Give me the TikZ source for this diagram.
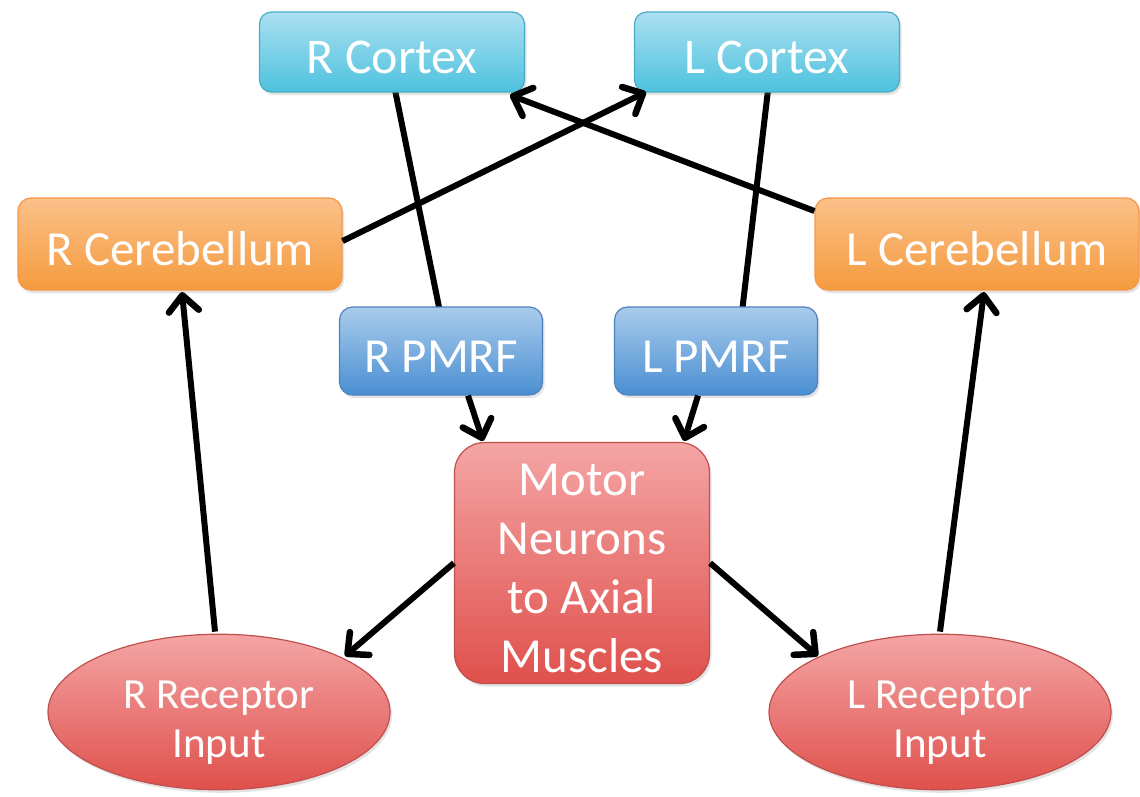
\documentclass[tikz,border=0pt]{standalone}
\usepackage{fontspec}
\setmainfont{Carlito}
\usetikzlibrary{arrows.meta,shapes.geometric,shadows}
\definecolor{cyanT}{HTML}{ABE0F1}
\definecolor{cyanB}{HTML}{4DC2DE}
\definecolor{cyanD}{HTML}{4BACC6}
\definecolor{orT}{HTML}{FBC089}
\definecolor{orB}{HTML}{F59B3E}
\definecolor{orD}{HTML}{F79646}
\definecolor{blT}{HTML}{A9CBEC}
\definecolor{blB}{HTML}{4A8FD2}
\definecolor{blD}{HTML}{4F81BD}
\definecolor{rdT}{HTML}{F4A5A5}
\definecolor{rdB}{HTML}{DF504C}
\definecolor{rdD}{HTML}{C0504D}
\newcommand\topstrut[1]{\rule{0pt}{#1}}
\newcommand\botstrut{\rule[-10pt]{0pt}{10pt}}
\tikzset{
  base/.style={text=white, line width=1.2pt, inner sep=0pt, align=center,
    drop shadow={opacity=0.22, shadow xshift=2pt, shadow yshift=-3pt}},
  oneline/.style={text height=52pt, text depth=10pt},
  cortexbox/.style={base, oneline, draw=cyanD, top color=cyanT, bottom color=cyanB,
    rounded corners=12pt, minimum width=265pt, minimum height=80pt, font=\fontsize{50}{58}\selectfont},
  cerebox/.style={base, oneline, draw=orD, top color=orT, bottom color=orB,
    rounded corners=13pt, minimum width=324pt, minimum height=92pt, font=\fontsize{49}{58}\selectfont},
  pmrfbox/.style={base, oneline, draw=blD, top color=blT, bottom color=blB,
    rounded corners=13pt, minimum width=203pt, minimum height=88pt, font=\fontsize{49}{58}\selectfont},
  motorbox/.style={base, draw=rdD, top color=rdT, bottom color=rdB,
    rounded corners=30pt, minimum width=255pt, minimum height=241pt, font=\fontsize{49}{59}\selectfont},
  recept/.style={base, ellipse, draw=rdD, top color=rdT, bottom color=rdB,
    minimum width=342pt, minimum height=155pt, font=\fontsize{43}{49}\selectfont},
  conn/.style={line width=6pt, black},
  arr/.style={conn, -{Straight Barb[length=16pt,width=30pt,line width=6.5pt,round]}}
}
\begin{document}
\begin{tikzpicture}[x=1pt,y=-1pt]
\useasboundingbox[fill=white] (0,0) rectangle (1140,796);
% lines from cortex to PMRF (behind the nodes)
\draw[conn] (395,90) -- (440,312);
\draw[conn] (768,90) -- (742,312);
\node[cortexbox] (rc) at (392,52) {R Cortex};
\node[cortexbox] (lc) at (767,52) {L Cortex};
\node[cerebox] (rcb) at (180,244) {R Cerebellum};
\node[cerebox] (lcb) at (977,244) {L Cerebellum};
\node[pmrfbox] (rp) at (441,351) {R PMRF};
\node[pmrfbox] (lp) at (716,351) {L PMRF};
\node[motorbox] (mn) at (582,563) {\topstrut{51pt}Motor\\Neurons\\to Axial\\Muscles\botstrut};
\node[recept] (rr) at (219,712) {\topstrut{51pt}R Receptor\\Input\botstrut};
\node[recept] (lr) at (940,712) {\topstrut{51pt}L Receptor\\Input\botstrut};
% arrows
\draw[arr] (rp.south) ++(27,0) -- (483,441);
\draw[arr] (lp.south) ++(-18,0) -- (684,441);
\draw[arr] (rcb.east) ++(0,-3) -- (646,92);
\draw[arr] (lcb.west) ++(0,-33) -- (510,95);
\draw[arr] (rr.north) ++(-4,-2) -- (182,292);
\draw[arr] (lr.north) ++(0,-2) -- (984,292);
\draw[arr] (mn.west) -- (345,656);
\draw[arr] (mn.east) -- (818,656);
\end{tikzpicture}
\end{document}
